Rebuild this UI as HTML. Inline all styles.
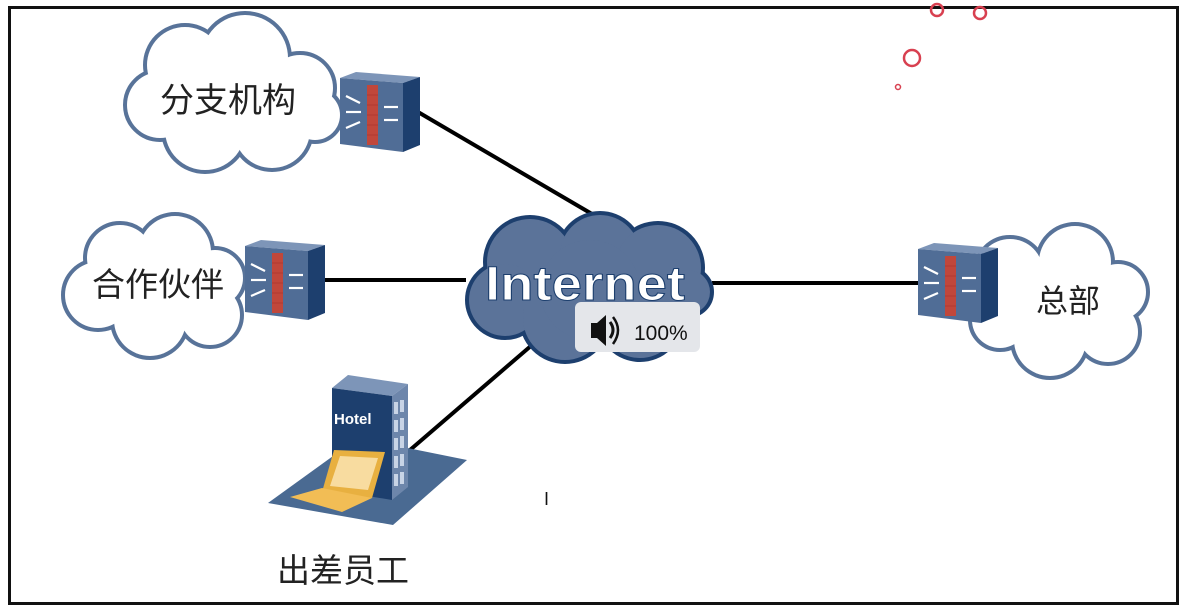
<!DOCTYPE html>
<html><head><meta charset="utf-8"><style>
html,body{margin:0;padding:0;background:#fff;}
svg{display:block;}
text{font-family:"Liberation Sans","Noto Sans CJK SC",sans-serif;}
</style></head><body>
<svg width="1185" height="612" viewBox="0 0 1185 612" xmlns="http://www.w3.org/2000/svg">
<defs>
<g id="fw">
  <polygon points="0,6 16,0 80,5 63,11" fill="#7d95b8"/>
  <polygon points="0,6 63,11 63,80 0,72" fill="#506d96"/>
  <polygon points="63,11 80,5 80,73 63,80" fill="#1d3f6e"/>
  <rect x="27" y="13" width="11" height="60" fill="#c0473b"/>
  <g stroke="#b03a30" stroke-width="1">
    <line x1="27" y1="23" x2="38" y2="23"/><line x1="27" y1="33" x2="38" y2="33"/><line x1="27" y1="43" x2="38" y2="43"/><line x1="27" y1="53" x2="38" y2="53"/><line x1="27" y1="63" x2="38" y2="63"/>
  </g>
  <g stroke="#fff" stroke-width="2.2" fill="#fff">
    <line x1="6" y1="24" x2="20" y2="31"/><line x1="6" y1="40" x2="21" y2="40"/><line x1="6" y1="56" x2="20" y2="50"/>
    <line x1="44" y1="35" x2="58" y2="35"/><line x1="44" y1="48" x2="58" y2="48"/>
  </g>
</g>
</defs>
<rect x="9.5" y="7.5" width="1168" height="596" fill="#fff" stroke="#111" stroke-width="3"/>

<g fill="none" stroke="#d84050" stroke-width="2.5">
<circle cx="937" cy="10" r="6"/><circle cx="980" cy="13" r="6"/><circle cx="912" cy="58" r="8"/><circle cx="898" cy="87" r="2.5" stroke-width="1.5"/>
</g>

<g stroke="#000" stroke-width="4">
<line x1="418" y1="112" x2="592" y2="214"/>
<line x1="323" y1="280" x2="466" y2="280"/>
<line x1="712" y1="283" x2="920" y2="283"/>
<line x1="532" y1="345" x2="410" y2="450"/>
</g>

<g fill="#fff" stroke="#587399" stroke-width="8">
<circle cx="185" cy="65" r="38"/><circle cx="245" cy="58" r="43"/><circle cx="300" cy="88" r="33"/><circle cx="160" cy="105" r="33"/><circle cx="205" cy="130" r="40"/><circle cx="272" cy="130" r="38"/><circle cx="315" cy="115" r="25"/>
</g>
<g fill="#fff">
<circle cx="185" cy="65" r="38"/><circle cx="245" cy="58" r="43"/><circle cx="300" cy="88" r="33"/><circle cx="160" cy="105" r="33"/><circle cx="205" cy="130" r="40"/><circle cx="272" cy="130" r="38"/><circle cx="315" cy="115" r="25"/><circle cx="235" cy="98" r="50"/>
</g>
<text x="228" y="112" font-size="34" text-anchor="middle" fill="#222">分支机构</text>

<g fill="#fff" stroke="#587399" stroke-width="8">
<circle cx="120" cy="258" r="33"/><circle cx="175" cy="252" r="36"/><circle cx="215" cy="278" r="28"/><circle cx="98" cy="295" r="33"/><circle cx="150" cy="320" r="36"/><circle cx="210" cy="315" r="30"/>
</g>
<g fill="#fff">
<circle cx="120" cy="258" r="33"/><circle cx="175" cy="252" r="36"/><circle cx="215" cy="278" r="28"/><circle cx="98" cy="295" r="33"/><circle cx="150" cy="320" r="36"/><circle cx="210" cy="315" r="30"/><circle cx="155" cy="287" r="45"/>
</g>
<text x="158" y="296" font-size="33" text-anchor="middle" fill="#222">合作伙伴</text>

<g fill="#fff" stroke="#587399" stroke-width="8">
<circle cx="1010" cy="272" r="33"/><circle cx="1075" cy="262" r="36"/><circle cx="1118" cy="292" r="28"/><circle cx="1000" cy="320" r="28"/><circle cx="1050" cy="340" r="36"/><circle cx="1108" cy="332" r="30"/>
</g>
<g fill="#fff">
<circle cx="1010" cy="272" r="33"/><circle cx="1075" cy="262" r="36"/><circle cx="1118" cy="292" r="28"/><circle cx="1000" cy="320" r="28"/><circle cx="1050" cy="340" r="36"/><circle cx="1108" cy="332" r="30"/><circle cx="1060" cy="300" r="45"/>
</g>
<text x="1068" y="312" font-size="32" text-anchor="middle" fill="#222">总部</text>

<g fill="#5b7399" stroke="#1d3f6e" stroke-width="8">
<circle cx="530" cy="262" r="43"/><circle cx="600" cy="255" r="40"/><circle cx="658" cy="268" r="43"/><circle cx="505" cy="300" r="36"/><circle cx="565" cy="318" r="42"/><circle cx="640" cy="318" r="40"/><circle cx="688" cy="292" r="22"/>
</g>
<g fill="#5b7399">
<circle cx="530" cy="262" r="43"/><circle cx="600" cy="255" r="40"/><circle cx="658" cy="268" r="43"/><circle cx="505" cy="300" r="36"/><circle cx="565" cy="318" r="42"/><circle cx="640" cy="318" r="40"/><circle cx="688" cy="292" r="22"/><circle cx="590" cy="290" r="50"/>
</g>
<text x="485" y="300" font-size="48" font-weight="bold" textLength="200" lengthAdjust="spacingAndGlyphs" fill="#fff" stroke="#1d3f6e" stroke-width="1">Internet</text>

<use href="#fw" x="340" y="72"/>
<use href="#fw" x="245" y="240"/>
<use href="#fw" x="918" y="243"/>

<polygon points="268,503 358,438 467,460 393,525" fill="#4a6a92"/>
<polygon points="332,388 348,375 408,384 392,396" fill="#7d95b8"/>
<polygon points="332,388 392,396 392,500 332,490" fill="#1d3f6e"/>
<polygon points="392,396 408,384 408,487 392,500" fill="#6d86ab"/>
<g fill="#c8d4e6"><rect x="394" y="402" width="4" height="12"/><rect x="400" y="400" width="4" height="12"/><rect x="394" y="420" width="4" height="12"/><rect x="400" y="418" width="4" height="12"/><rect x="394" y="438" width="4" height="12"/><rect x="400" y="436" width="4" height="12"/><rect x="394" y="456" width="4" height="12"/><rect x="400" y="454" width="4" height="12"/><rect x="394" y="474" width="4" height="12"/><rect x="400" y="472" width="4" height="12"/></g>
<text x="334" y="424" font-size="15" font-weight="bold" fill="#fff">Hotel</text>
<polygon points="334,450 385,452 372,498 322,492" fill="#e8b040"/>
<polygon points="340,456 378,458 368,490 330,486" fill="#f8dca0"/>
<polygon points="290,497 322,488 372,498 342,512" fill="#f2bd55"/>

<text x="343" y="582" font-size="33" text-anchor="middle" fill="#222">出差员工</text>

<rect x="575" y="302" width="125" height="50" rx="6" fill="#e4e6ea"/>
<polygon points="591,323 597,323 606,315 606,346 597,338 591,338" fill="#111"/>
<path d="M610,322 Q616,330 610,338" stroke="#111" stroke-width="3" fill="none"/>
<path d="M613,317 Q623,330 613,344" stroke="#111" stroke-width="2.5" fill="none"/>
<text x="634" y="340" font-size="21" fill="#111">100%</text>

<text x="544" y="505" font-size="18" fill="#111">I</text>
</svg>
</body></html>
